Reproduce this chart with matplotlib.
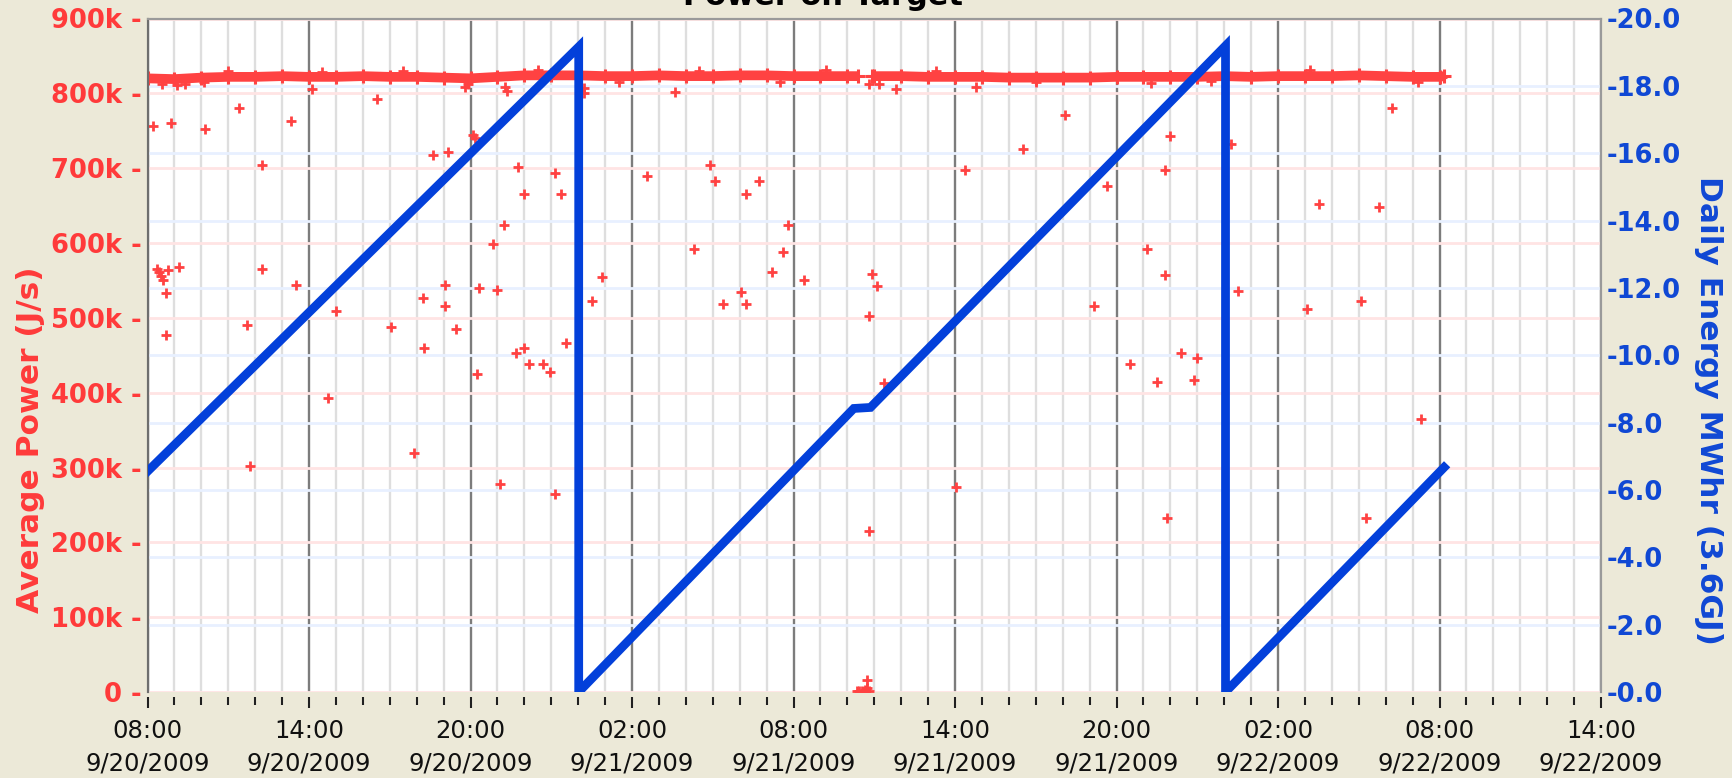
import matplotlib
matplotlib.use('Agg')
import matplotlib.pyplot as plt
import matplotlib.dates as mdates
import matplotlib.transforms as mtransforms
from matplotlib.ticker import FixedLocator, FuncFormatter
from datetime import datetime, timedelta

plt.rcParams['font.family'] = ['DejaVu Sans']

START = datetime(2009, 9, 20, 8, 0)
END = datetime(2009, 9, 22, 14, 0)

# ---- Data (hours after 08:00 9/20/2009) ----
# Steady-state power band, kJ/s (two segments around the outage)
band1_hours = [0, 1, 2, 3, 4, 5, 6, 7, 8, 9, 10, 11, 12, 13, 14, 15, 16, 17,
               18, 19, 20, 21, 22, 23, 24, 25, 26, 26.38]
band1_power = [820, 819, 821, 822, 822, 823, 822, 822, 823, 822, 822, 821, 820,
               822, 824, 824, 824, 823, 823, 824, 823, 823, 824, 824, 823, 823,
               823, 823]
band2_hours = [26.9, 27, 28, 29, 30, 31, 32, 33, 34, 35, 36, 37, 38, 39, 40, 41,
               42, 43, 44, 45, 46, 47, 48, 48.17]
band2_power = [823, 823, 823, 822, 822, 822, 821, 821, 821, 821, 822, 822, 822,
               822, 823, 822, 823, 823, 823, 824, 823, 822, 822, 823]

# Readings just below / above the band
dip_hours = [0.55, 1.1, 1.4, 2.1, 3.0, 6.5, 9.5, 11.8, 11.9, 14.5, 17.5, 20.5,
             23.5, 25.2, 29.3, 33.0, 37.3, 39.5, 43.2, 47.2]
dip_power = [812, 811, 813, 815, 830, 829, 830, 809, 813, 831, 815, 830,
             815, 831, 830, 815, 814, 816, 831, 815]

# Scattered low readings
outlier_hours = [
    0.19, 0.86, 2.14, 3.39, 5.33, 6.12, 8.54, 4.27, 10.59, 11.16, 12.11, 12.15,
    13.29, 13.35, 13.78, 15.15, 14.0, 15.36, 13.23, 12.82, 16.2, 16.22, 16.88,
    16.51, 15.55, 13.97, 13.69,
    0.34, 0.42, 0.5, 0.56, 0.77, 1.17, 0.68, 0.68, 4.27, 5.53, 3.69, 7.0, 9.04,
    10.22, 11.06, 11.06, 11.47, 10.28, 12.33, 13.0,
    3.79, 6.7, 9.91, 12.24, 14.18, 14.68, 14.96, 13.1, 15.15,
    18.56, 19.61, 20.89, 21.07, 22.25, 22.73, 23.8, 23.6, 20.29, 23.2, 24.38,
    21.37, 22.05, 22.25, 26.92, 27.11, 26.82, 26.82, 27.19, 27.79, 30.79, 30.39,
    32.53, 34.1, 35.66, 35.16,
    27.38, 26.82, 30.02,
    26.36, 26.45, 26.55, 26.65, 26.74, 26.74, 26.8,
    37.98, 37.79, 37.12, 37.8, 40.24, 40.51, 43.06, 43.52, 45.1, 45.77, 46.25,
    38.38, 38.98,
    36.52, 37.5, 38.87, 37.89, 45.26, 47.3]
outlier_power = [
    756, 760, 753, 781, 763, 806, 792, 704, 718, 722, 744, 740,
    808, 803, 701, 694, 665, 665, 624, 599, 807, 801, 554,
    522, 467, 460, 453,
    565, 561, 556, 551, 564, 568, 533, 477, 565, 544, 491, 509, 488,
    526, 544, 516, 485, 460, 540, 537,
    302, 393, 320, 425, 438, 438, 428, 278, 264,
    690, 802, 704, 683, 665, 683, 624, 588, 592, 561, 551,
    519, 534, 519, 558, 543, 502, 812, 812, 806, 809, 698,
    725, 771, 676, 516,
    413, 215, 274,
    1, 2, 1, 3, 5, 16, 2,
    743, 698, 592, 557, 732, 536, 512, 652, 522, 648, 781,
    453, 446,
    438, 414, 417, 232, 232, 365]

# Daily energy (MWhr), vertices of the accumulated curve
energy_hours = [0.0, 16.02, 16.02, 26.24, 26.86, 40.05, 40.05, 48.17]
energy_mwhr = [6.55, 19.16, 0.0, 8.42, 8.45, 19.19, 0.0, 6.67]

power_ticks = [0, 100, 200, 300, 400, 500, 600, 700, 800, 900]
energy_ticks = [0, 2, 4, 6, 8, 10, 12, 14, 16, 18, 20]

RED = '#FF4242'
BLUE = '#0340DA'
RED_TXT = '#FF3A3A'
BLUE_TXT = '#1048D4'


def to_dt(hours):
    return [START + timedelta(hours=h) for h in hours]


W, H = 1733, 778
fig = plt.figure(figsize=(W / 100, H / 100), dpi=100, facecolor='#ECE9D8')
ax = fig.add_axes([147.5 / W, 1 - 692 / H, (1601 - 147.5) / W, (692 - 18.5) / H])
ax.set_facecolor('white')
ax.set_xlim(START, END)
ax.set_ylim(0, 900)

# grid
ax.set_axisbelow(True)
ax.xaxis.set_major_locator(mdates.HourLocator(byhour=[2, 8, 14, 20]))
ax.xaxis.set_minor_locator(mdates.HourLocator())
ax.grid(which='minor', axis='x', color='#DEDEDE', lw=1.7)
ax.grid(which='major', axis='x', color='#7C7C7C', lw=1.7)
ax.yaxis.set_major_locator(FixedLocator(power_ticks))
ax.grid(which='major', axis='y', color='#FFE4E4', lw=2.0)

ax2 = ax.twinx()
ax2.set_ylim(0, 20)
ax2.yaxis.set_major_locator(FixedLocator(energy_ticks))
blend = mtransforms.blended_transform_factory(ax.transAxes, ax2.transData)
for e in energy_ticks[1:-1]:
    ax.plot([0, 1], [e, e], transform=blend, color='#E8F0FF', lw=2.0, zorder=0.6)

# data
for bh, bp in ((band1_hours, band1_power), (band2_hours, band2_power)):
    ax.plot(to_dt(bh), bp, color=RED, lw=7.0, marker='+', ms=10,
            mew=2.2, zorder=3, solid_capstyle='butt')
ax.plot(to_dt(dip_hours), dip_power, ls='none', color=RED, marker='+', ms=7,
        mew=2.0, zorder=3)
ax.plot(to_dt(outlier_hours), outlier_power, ls='none', color=RED, marker='+',
        ms=7, mew=2.0, zorder=3)
ax2.plot(to_dt(energy_hours), energy_mwhr, color=BLUE, lw=6.3, zorder=4,
         solid_joinstyle='miter')

# x axis
def fmt_x(x, pos):
    d = mdates.num2date(x)
    return f"{d:%H:%M}\n{d.month}/{d.day}/{d.year}"

ax.xaxis.set_major_formatter(FuncFormatter(fmt_x))
ax.tick_params(axis='x', which='major', length=8, width=1.5, color='#202020',
               labelsize=17.5, pad=8, labelcolor='#101010')
ax.tick_params(axis='x', which='minor', length=5.5, width=1.5, color='#202020')
ax.spines['bottom'].set_position(('outward', 3.6))
ax.spines['bottom'].set_color('none')

# y axes
ax.yaxis.set_major_formatter(FuncFormatter(
    lambda v, p: '0 -' if v == 0 else f"{int(v)}k -"))
ax.tick_params(axis='y', length=0, pad=4, labelsize=18.5, labelcolor=RED_TXT)
ax2.yaxis.set_major_formatter(FuncFormatter(lambda v, p: f"-{v:.1f}"))
ax2.tick_params(axis='y', length=0, pad=4, labelsize=18.5, labelcolor=BLUE_TXT)

for a in (ax, ax2):
    a.spines['top'].set_color('#9A9A9A')
    a.spines['top'].set_linewidth(1.5)
    a.spines['right'].set_color('#9A9A9A')
    a.spines['right'].set_linewidth(1.5)
    a.spines['left'].set_color('#6E6E6E')
    a.spines['left'].set_linewidth(1.5)
ax2.spines['bottom'].set_color('none')

fig.text(31 / W, 1 - 440 / H, 'Average Power (J/s)', rotation=90, ha='center',
         va='center', fontsize=22.5, fontweight='bold', color=RED_TXT)
fig.text(1709 / W, 1 - 410 / H, 'Daily Energy MWhr (3.6GJ)', rotation=270,
         ha='center', va='center', fontsize=22.5, fontweight='bold', color=BLUE_TXT)
fig.text(823 / W, 1 - 5 / H, 'Power on Target', ha='center', va='baseline',
         fontsize=22, fontweight='bold', color='black')

fig.canvas.draw()
for t in ax.xaxis.get_major_ticks():
    t.label1.set_linespacing(1.45)
for lbl in ax.get_yticklabels() + ax2.get_yticklabels():
    lbl.set_fontweight('bold')

fig.savefig('out.png', dpi=100, facecolor=fig.get_facecolor())
